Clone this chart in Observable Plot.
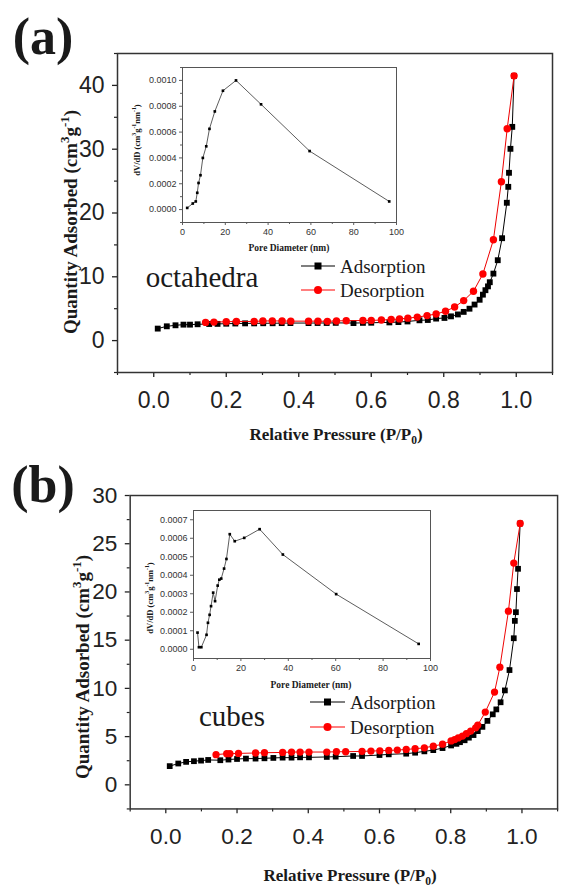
<!DOCTYPE html>
<html><head><meta charset="utf-8">
<script src="https://cdn.jsdelivr.net/npm/d3@7"></script>
<script src="https://cdn.jsdelivr.net/npm/@observablehq/plot@0.6"></script>
<style>
html,body{margin:0;padding:0;background:#fff;}
#root{position:relative;width:562px;height:890px;overflow:hidden;background:#fff;}
.serif{font-family:"Liberation Serif","Times New Roman",serif;color:#1a1a1a;}
.bold{font-weight:bold;white-space:nowrap;line-height:1;}
sup,sub{font-size:0.68em;line-height:0;}
</style></head><body><div id="root"></div>
<script>
// ---------- DATA ----------
// Panel (a) octahedra – main isotherm
const aAdsX = [0.011,0.036,0.06,0.082,0.1,0.121,0.153,0.176,0.2,0.225,0.252,0.277,0.302,0.328,0.353,0.377,0.427,0.452,0.477,0.502,0.551,0.577,0.6,0.65,0.675,0.7,0.733,0.756,0.779,0.802,0.82,0.839,0.855,0.871,0.885,0.899,0.908,0.915,0.922,0.927,0.937,0.949,0.961,0.974,0.978,0.98,0.984,0.989,0.994];
const aAdsY = [1.88,2.24,2.4,2.5,2.5,2.56,2.6,2.62,2.65,2.68,2.7,2.7,2.72,2.72,2.74,2.75,2.75,2.76,2.76,2.78,2.75,2.78,2.8,2.85,2.9,3.0,3.18,3.23,3.45,3.55,3.8,4.1,4.5,5.0,5.65,6.4,7.2,7.9,8.5,9.15,10.5,12.6,16.05,21.6,24.1,26.3,30.06,33.5,41.5];
const aDesX = [0.143,0.166,0.2,0.228,0.277,0.301,0.327,0.354,0.378,0.427,0.453,0.479,0.504,0.531,0.577,0.6,0.628,0.655,0.678,0.701,0.727,0.754,0.779,0.805,0.83,0.855,0.882,0.908,0.937,0.959,0.975,0.994];
const aDesY = [2.85,2.9,2.95,3.0,3.0,3.08,3.08,3.08,3.05,3.05,3.05,3.02,3.08,3.12,3.15,3.17,3.22,3.3,3.4,3.52,3.68,3.92,4.17,4.6,5.27,6.27,7.73,10.45,15.8,24.9,33.2,41.5];
// Panel (a) inset – pore size distribution
const aPoreX = [2.2,4.8,6.2,6.9,7.5,8.4,9.5,11.1,12.6,15.1,18.9,25,36.7,59.4,96.6];
const aPoreY = [0.000013,0.000047,0.000063,0.00013,0.000206,0.000266,0.0004,0.00049,0.000625,0.00076,0.00092,0.001,0.000815,0.000453,0.000063];

// Panel (b) cubes – main isotherm
const bAdsX = [0.011,0.035,0.057,0.079,0.099,0.119,0.153,0.176,0.2,0.225,0.252,0.277,0.302,0.328,0.353,0.377,0.402,0.452,0.477,0.526,0.551,0.6,0.626,0.675,0.7,0.726,0.751,0.777,0.801,0.816,0.826,0.839,0.851,0.864,0.876,0.889,0.903,0.918,0.928,0.94,0.952,0.965,0.977,0.98,0.983,0.986,0.989,0.995];
const bAdsY = [1.94,2.21,2.38,2.45,2.51,2.58,2.55,2.62,2.68,2.72,2.72,2.75,2.79,2.82,2.82,2.85,2.85,2.89,2.92,2.99,2.99,3.09,3.16,3.23,3.33,3.47,3.6,3.81,4.08,4.25,4.42,4.62,4.89,5.16,5.57,6.01,6.63,7.31,7.82,8.56,9.79,11.9,15.2,17.0,17.9,20.3,22.4,27.1];
const bDesX = [0.141,0.171,0.18,0.204,0.252,0.277,0.328,0.353,0.377,0.402,0.452,0.479,0.505,0.551,0.576,0.601,0.626,0.65,0.675,0.7,0.726,0.751,0.777,0.801,0.811,0.821,0.833,0.844,0.856,0.87,0.876,0.897,0.923,0.938,0.962,0.977,0.995];
const bDesY = [3.13,3.23,3.23,3.26,3.3,3.33,3.36,3.4,3.4,3.4,3.4,3.43,3.43,3.47,3.5,3.53,3.57,3.6,3.67,3.74,3.84,4.01,4.21,4.55,4.69,4.86,5.06,5.3,5.57,5.91,6.2,7.54,9.62,12.2,18.0,23.0,27.1];
// Panel (b) inset – pore size distribution
const bPoreX = [1.7,2.3,3.3,5.5,6.1,6.8,7.4,8.3,9.1,10.2,10.9,11.7,12.9,13.9,15.3,17.4,21.4,27.9,37.7,60.2,95];
const bPoreY = [0.00009,0.000011,0.000011,0.000078,0.000143,0.000186,0.000233,0.000306,0.00026,0.000344,0.000376,0.000382,0.000436,0.000488,0.000622,0.000584,0.000602,0.000649,0.000512,0.000298,0.000029];

// tick values
const mainXTicks = [0,0.2,0.4,0.6,0.8,1.0];
const mainXMinor = [-0.1,0.1,0.3,0.5,0.7,0.9,1.1];
const aYTicks = [0,10,20,30,40];
const aYMinor = [-5,5,15,25,35,45];
const bYTicks = [0,5,10,15,20,25,30];
const bYMinor = [-2.5,2.5,7.5,12.5,17.5,22.5,27.5];
const poreXTicks = [0,20,40,60,80,100];
const poreXMinor = [10,30,50,70,90];
const aPoreYTicks = [0,0.0002,0.0004,0.0006,0.0008,0.001];
const aPoreYMinor = [-0.0001,0.0001,0.0003,0.0005,0.0007,0.0009,0.0011];
const bPoreYTicks = [0,0.0001,0.0002,0.0003,0.0004,0.0005,0.0006,0.0007];

const zip = (xs, ys) => xs.map((x, i) => ({x, y: ys[i]}));
const RED = "#ff0000", BLK = "#000";
const root = document.getElementById("root");

function place(el, left, top) {
  el.style.position = "absolute"; el.style.left = left + "px"; el.style.top = top + "px";
  root.appendChild(el); return el;
}
function html(str, cls, cx, cy, size, rot) {
  const d = document.createElement("div");
  d.className = cls; d.innerHTML = str; d.style.fontSize = size + "px";
  d.style.transform = `translate(-50%,-50%)` + (rot ? ` rotate(${rot}deg)` : "");
  return place(d, cx, cy);
}

function mainPlot({W, H, mL, mR, mT, mB, yDomain, yTicks, yMinor, ads, des}) {
  return Plot.plot({
    width: W, height: H, marginLeft: mL, marginRight: mR, marginTop: mT, marginBottom: mB,
    x: {domain: [-0.1, 1.1], label: null},
    y: {domain: yDomain, label: null},
    style: {fontFamily: "Liberation Sans, Arial, sans-serif", fontSize: "23px", color: "#222", background: "transparent", overflow: "visible"},
    marks: [
      Plot.axisX(mainXTicks, {tickSize: 5, tickPadding: 14, tickFormat: d3.format(".1f"), label: null, strokeWidth: 1.3}),
      Plot.axisX(mainXMinor, {tickSize: 3, tickFormat: () => "", label: null, strokeWidth: 1.2}),
      Plot.axisY(yTicks, {tickSize: 5, tickPadding: 8, label: null, strokeWidth: 1.3}),
      Plot.axisY(yMinor, {tickSize: 3, tickFormat: () => "", label: null, strokeWidth: 1.2}),
      Plot.frame({stroke: "#333", strokeWidth: 1.5}),
      Plot.line(ads, {x: "x", y: "y", stroke: BLK, strokeWidth: 1}),
      Plot.dot(ads, {x: "x", y: "y", symbol: "square", fill: BLK, r: 3.3}),
      Plot.line(des, {x: "x", y: "y", stroke: "#e00", strokeWidth: 1}),
      Plot.dot(des, {x: "x", y: "y", symbol: "circle", fill: RED, r: 3.7})
    ]
  });
}

function insetPlot({W, H, mL, mR, mT, mB, yDomain, yTicks, yMinor, data}) {
  return Plot.plot({
    width: W, height: H, marginLeft: mL, marginRight: mR, marginTop: mT, marginBottom: mB,
    x: {domain: [0, 100], label: null},
    y: {domain: yDomain, label: null},
    style: {fontFamily: "Liberation Sans, Arial, sans-serif", fontSize: "9px", color: "#333", background: "transparent", overflow: "visible"},
    marks: [
      Plot.frame({fill: "white", stroke: "none"}),
      Plot.axisX(poreXTicks, {tickSize: 3, tickPadding: 3, label: null, strokeWidth: 0.8}),
      Plot.axisX(poreXMinor, {tickSize: 2, tickFormat: () => "", label: null, strokeWidth: 0.8}),
      Plot.axisY(yTicks, {tickSize: 3, tickPadding: 3, tickFormat: d3.format(".4f"), label: null, strokeWidth: 0.8}),
      ...(yMinor ? [Plot.axisY(yMinor, {tickSize: 2, tickFormat: () => "", label: null, strokeWidth: 0.8})] : []),
      Plot.frame({stroke: "#555", strokeWidth: 1}),
      Plot.line(data, {x: "x", y: "y", stroke: "#333", strokeWidth: 0.8}),
      Plot.dot(data, {x: "x", y: "y", symbol: "square", fill: "#000", r: 1.5})
    ]
  });
}

function legend(x1, x2, y, color, symbol, label, tx) {
  const ns = "http://www.w3.org/2000/svg";
  const s = document.createElementNS(ns, "svg");
  s.setAttribute("width", x2 - x1 + 10); s.setAttribute("height", 14);
  s.style.position = "absolute"; s.style.left = (x1 - 5) + "px"; s.style.top = (y - 7) + "px";
  const ln = document.createElementNS(ns, "line");
  ln.setAttribute("x1", 5); ln.setAttribute("x2", x2 - x1 + 5); ln.setAttribute("y1", 7); ln.setAttribute("y2", 7);
  ln.setAttribute("stroke", color); ln.setAttribute("stroke-width", 1.2); s.appendChild(ln);
  const cx = (x2 - x1) / 2 + 5;
  let m;
  if (symbol === "square") {
    m = document.createElementNS(ns, "rect");
    m.setAttribute("x", cx - 3.5); m.setAttribute("y", 3.5); m.setAttribute("width", 7); m.setAttribute("height", 7);
  } else {
    m = document.createElementNS(ns, "circle");
    m.setAttribute("cx", cx); m.setAttribute("cy", 7); m.setAttribute("r", 4);
  }
  m.setAttribute("fill", color); s.appendChild(m);
  root.appendChild(s);
  const d = document.createElement("div");
  d.className = "serif"; d.textContent = label; d.style.fontSize = "19px"; d.style.lineHeight = "1";
  d.style.transform = "translateY(-50%)";
  place(d, tx, y);
}

// ---------- Panel (a) ----------
place(mainPlot({W: 562, H: 400, mL: 117, mR: 10, mT: 53, mB: 28, yDomain: [-5, 45], yTicks: aYTicks, yMinor: aYMinor,
  ads: zip(aAdsX, aAdsY), des: zip(aDesX, aDesY)}), 0, 0);
place(insetPlot({W: 290, H: 200, mL: 62, mR: 14, mT: 10, mB: 35, yDomain: [-0.0001, 0.0011], yTicks: aPoreYTicks, yMinor: aPoreYMinor,
  data: zip(aPoreX, aPoreY)}), 120, 57);
html("(a)", "serif bold", 43, 37, 52);
html("Quantity Adsorbed (cm<sup>3</sup>g<sup>-1</sup>)", "serif bold", 70, 222, 19, -90);
html("Relative Pressure (P/P<sub>0</sub>)", "serif bold", 336, 434, 17);
html("dV/dD (cm<sup>3</sup>g<sup>-1</sup>nm<sup>-1</sup>)", "serif bold", 137, 140, 8.5, -90);
html("Pore Diameter (nm)", "serif bold", 289, 249, 9.5);
html("octahedra", "serif", 202, 277, 29);
legend(301, 335, 266, BLK, "square", "Adsorption", 340);
legend(301, 335, 290, RED, "circle", "Desorption", 340);

// ---------- Panel (b) ----------
place(mainPlot({W: 572, H: 420, mL: 132, mR: 5, mT: 56, mB: 45, yDomain: [-2.5, 30], yTicks: bYTicks, yMinor: bYMinor,
  ads: zip(bAdsX, bAdsY), des: zip(bDesX, bDesY)}), 0, 440);
place(insetPlot({W: 310, H: 190, mL: 63, mR: 10, mT: 10, mB: 32, yDomain: [-0.00005, 0.00075], yTicks: bPoreYTicks, yMinor: null,
  data: zip(bPoreX, bPoreY)}), 130, 500);
html("(b)", "serif bold", 43, 485, 52);
html("Quantity Adsorbed (cm<sup>3</sup>g<sup>-1</sup>)", "serif bold", 82, 667, 19, -90);
html("Relative Pressure (P/P<sub>0</sub>)", "serif bold", 350, 875, 17);
html("dV/dD (cm<sup>3</sup>g<sup>-1</sup>nm<sup>-1</sup>)", "serif bold", 150, 598, 8.5, -90);
html("Pore Diameter (nm)", "serif bold", 311, 686, 9.5);
html("cubes", "serif", 232, 716, 29);
legend(310, 345, 702, BLK, "square", "Adsorption", 350);
legend(310, 345, 727, RED, "circle", "Desorption", 350);
</script></body></html>
